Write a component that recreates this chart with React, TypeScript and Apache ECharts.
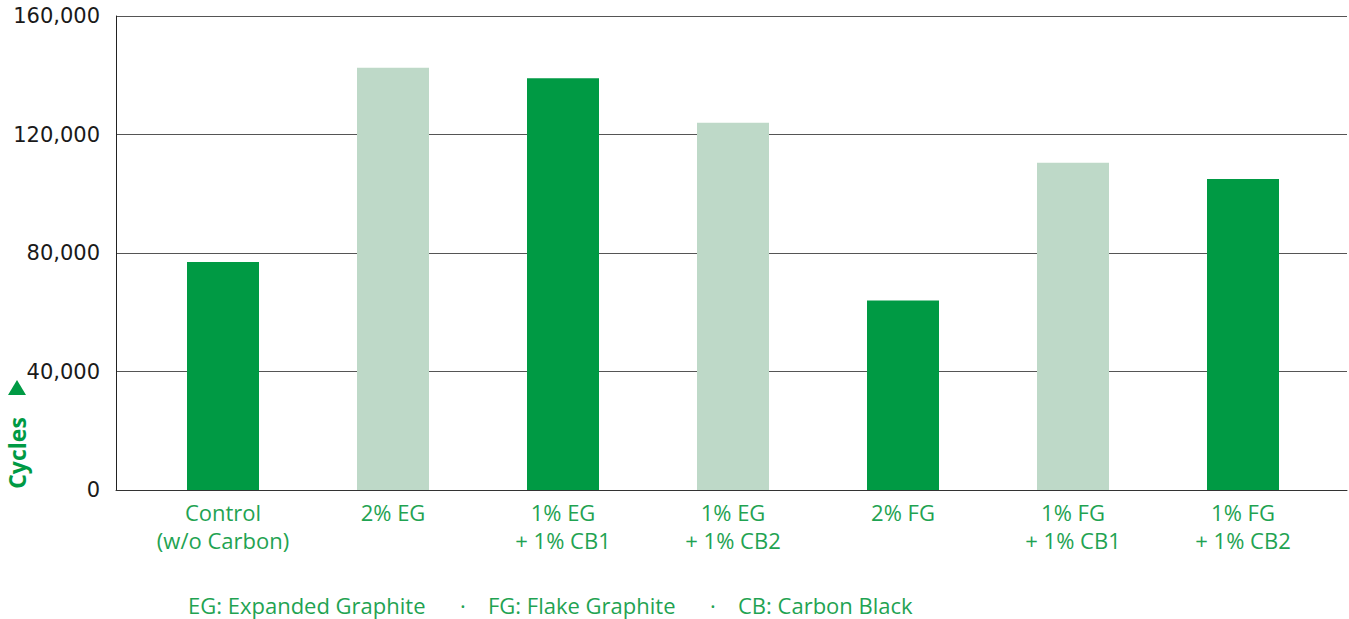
import React, { useEffect, useRef } from "react";
import * as echarts from "echarts";

const categories = [
  "Control\n(w/o Carbon)",
  "2% EG",
  "1% EG\n+ 1% CB1",
  "1% EG\n+ 1% CB2",
  "2% FG",
  "1% FG\n+ 1% CB1",
  "1% FG\n+ 1% CB2",
];
const cycles = [77000, 142500, 139000, 124000, 64000, 110500, 105000];
const barKinds = ["dark", "light", "dark", "light", "dark", "light", "dark"];
const yTicks = { min: 0, max: 160000, interval: 40000 };
const axisTitle = "Cycles";
const footnoteParts = ["EG: Expanded Graphite", "FG: Flake Graphite", "CB: Carbon Black"];

const DARK = "#009a44";
const LIGHT = "#bed9c8";
const TEXT_GREEN = "#1fa352";

export default function App() {
  const ref = useRef<HTMLDivElement>(null);
  useEffect(() => {
    if (!ref.current) return;
    const chart = echarts.init(ref.current, null, { renderer: "svg" });
    const partX = [188, 488, 738];
    const dotX = [463, 713];
    const footGraphics: any[] = [];
    footnoteParts.forEach((t, i) => {
      footGraphics.push({
        type: "text",
        x: partX[i],
        y: 605,
        style: {
          text: t,
          fill: TEXT_GREEN,
          font: "22px 'Open Sans'",
          textAlign: "left",
          textVerticalAlign: "middle",
        },
      });
    });
    dotX.forEach((x) => {
      footGraphics.push({
        type: "text",
        x,
        y: 605,
        style: {
          text: "·",
          fill: TEXT_GREEN,
          font: "22px 'Open Sans'",
          textAlign: "center",
          textVerticalAlign: "middle",
        },
      });
    });
    chart.setOption({
      animation: false,
      grid: [
        { left: 116, top: 16, width: 1231, height: 474 },
        { left: 138, top: 16, width: 1190, height: 474 },
      ],
      xAxis: [
        {
          gridIndex: 0,
          type: "value",
          min: 0,
          max: 1,
          axisLine: { show: true, onZero: false, lineStyle: { color: "#333", width: 1 } },
          axisTick: { show: false },
          axisLabel: { show: false },
          splitLine: { show: false },
        },
        {
          gridIndex: 1,
          type: "category",
          data: categories,
          axisLine: { show: false },
          axisTick: { show: false },
          axisLabel: {
            color: TEXT_GREEN,
            fontFamily: "Open Sans",
            fontSize: 22,
            lineHeight: 28,
            margin: 8,
            interval: 0,
          },
        },
      ],
      yAxis: [
        {
          gridIndex: 0,
          type: "value",
          min: yTicks.min,
          max: yTicks.max,
          interval: yTicks.interval,
          axisLine: { show: true, lineStyle: { color: "#222", width: 1 } },
          axisTick: { show: false },
          axisLabel: {
            color: "#1a1a1a",
            fontFamily: "DejaVu Sans",
            fontSize: 21,
            margin: 16,
            formatter: (v: number) => v.toLocaleString("en-US"),
          },
          splitLine: { show: true, lineStyle: { color: "#555", width: 1 } },
        },
        {
          gridIndex: 1,
          type: "value",
          min: yTicks.min,
          max: yTicks.max,
          interval: yTicks.interval,
          show: false,
          splitLine: { show: false },
        },
      ],
      series: [
        {
          type: "bar",
          xAxisIndex: 1,
          yAxisIndex: 1,
          barWidth: 72,
          data: cycles.map((v, i) => ({
            value: v,
            itemStyle: { color: barKinds[i] === "dark" ? DARK : LIGHT },
          })),
        },
      ],
      graphic: [
        {
          type: "text",
          x: 17,
          y: 453,
          rotation: Math.PI / 2,
          style: {
            text: axisTitle,
            fill: DARK,
            font: "bold 23px 'Open Sans'",
            textAlign: "center",
            textVerticalAlign: "middle",
          },
        },
        {
          type: "polygon",
          shape: { points: [[8, 395], [26, 395], [17, 380]] },
          style: { fill: DARK },
        },
        ...footGraphics,
      ],
    });
    return () => chart.dispose();
  }, []);
  return (
    <div
      ref={ref}
      style={{ position: "fixed", left: 0, top: 0, width: 1349, height: 619, background: "#fff" }}
    />
  );
}
